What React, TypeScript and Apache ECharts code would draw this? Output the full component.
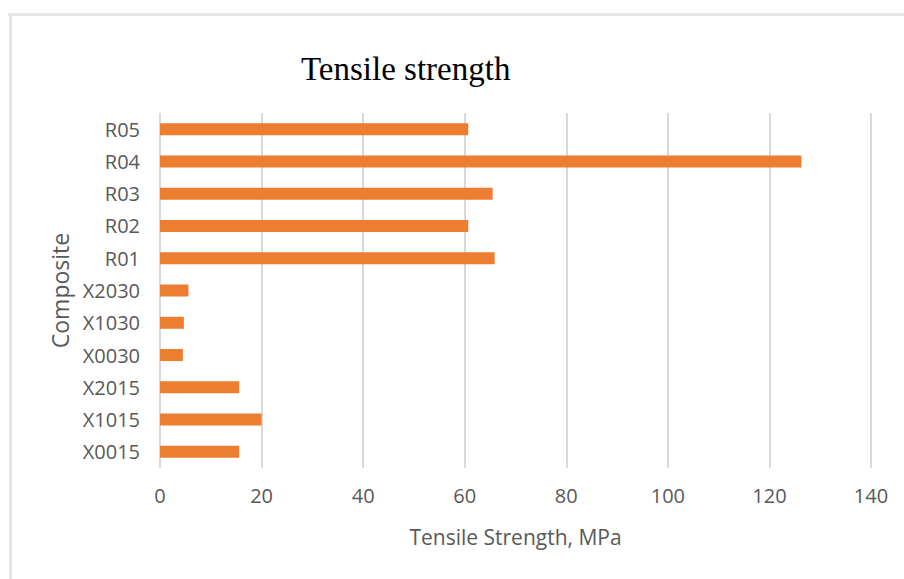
import React, { useEffect, useRef } from "react";
import * as echarts from "echarts";

const categories = ["X0015", "X1015", "X2015", "X0030", "X1030", "X2030", "R01", "R02", "R03", "R04", "R05"];
const tensileValues = [15.6, 20.0, 15.6, 4.5, 4.7, 5.6, 65.9, 60.7, 65.5, 126.3, 60.7];
const xTicks = { min: 0, max: 140, interval: 20 };

export default function App() {
  const ref = useRef<HTMLDivElement>(null);
  useEffect(() => {
    document.body.style.margin = "0";
    const chart = echarts.init(ref.current!, null, { renderer: "svg" });
    const labelFont = "'Open Sans', 'Noto Sans', sans-serif";
    chart.setOption({
      animation: false,
      backgroundColor: "#ffffff",
      title: {
        text: "Tensile strength",
        left: 296,
        top: 47,
        textStyle: { fontFamily: "'Liberation Serif', serif", fontSize: 33, fontWeight: "normal", color: "#000000" },
      },
      graphic: [
        { type: "rect", shape: { x: 8, y: 13, width: 896, height: 3 }, style: { fill: "#e6e6e6" }, silent: true },
        { type: "rect", shape: { x: 9, y: 13, width: 3, height: 566 }, style: { fill: "#e6e6e6" }, silent: true },
      ],
      grid: { left: 160, right: 33, top: 113, bottom: 111, containLabel: false },
      xAxis: {
        type: "value",
        min: xTicks.min,
        max: xTicks.max,
        interval: xTicks.interval,
        axisLine: { show: false },
        axisTick: { show: false },
        axisLabel: { color: "#595959", fontSize: 20, fontFamily: labelFont, margin: 17 },
        splitLine: { show: true, lineStyle: { color: "#d9d9d9", width: 2 } },
        name: "Tensile Strength, MPa",
        nameLocation: "middle",
        nameGap: 58,
        nameTextStyle: { color: "#595959", fontSize: 21, fontFamily: labelFont },
      },
      yAxis: {
        type: "category",
        data: categories,
        axisLine: { show: false },
        axisTick: { show: false },
        axisLabel: { color: "#595959", fontSize: 20, fontFamily: labelFont, margin: 20 },
        splitLine: { show: false },
        name: "Composite",
        nameLocation: "middle",
        nameGap: 88,
        nameTextStyle: { color: "#595959", fontSize: 23, fontFamily: labelFont },
      },
      series: [
        {
          type: "bar",
          data: tensileValues,
          barWidth: 12,
          itemStyle: { color: "#ED7D31" },
        },
      ],
    });
    return () => chart.dispose();
  }, []);
  return <div ref={ref} style={{ width: 904, height: 579 }} />;
}
